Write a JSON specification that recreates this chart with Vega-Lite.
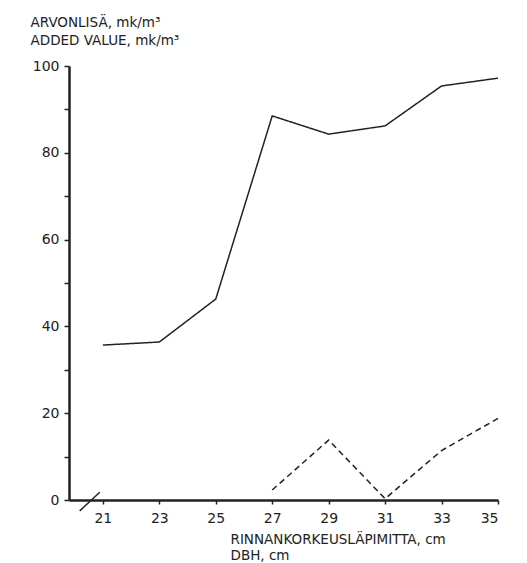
{
  "$schema": "https://vega.github.io/schema/vega-lite/v6.json",
  "width": 429,
  "height": 434,
  "autosize": "none",
  "padding": {"left": 69, "top": 66, "right": 29, "bottom": 63},
  "background": "white",
  "config": {
    "view": {"stroke": null},
    "axis": {
      "grid": false,
      "domainColor": "#222",
      "domainWidth": 2.5,
      "tickColor": "#222",
      "tickWidth": 1.5,
      "labelFont": "DejaVu Sans",
      "labelFontSize": 14,
      "labelColor": "#222",
      "titleFont": "DejaVu Sans",
      "titleFontSize": 13.5,
      "titleFontWeight": "normal",
      "titleColor": "#222"
    }
  },
  "datasets": {
    "lines": [
      {"dbh": 21, "value": 35.7, "series": "solid"},
      {"dbh": 23, "value": 36.4, "series": "solid"},
      {"dbh": 25, "value": 46.3, "series": "solid"},
      {"dbh": 27, "value": 88.5, "series": "solid"},
      {"dbh": 29, "value": 84.3, "series": "solid"},
      {"dbh": 31, "value": 86.2, "series": "solid"},
      {"dbh": 33, "value": 95.4, "series": "solid"},
      {"dbh": 35, "value": 97.2, "series": "solid"},
      {"dbh": 27, "value": 2.3, "series": "dashed"},
      {"dbh": 29, "value": 13.8, "series": "dashed"},
      {"dbh": 31, "value": 0.3, "series": "dashed"},
      {"dbh": 33, "value": 11.4, "series": "dashed"},
      {"dbh": 35, "value": 18.8, "series": "dashed"}
    ],
    "brk": [
      {"x": 20.18, "x2": 20.89, "y": -2.5, "y2": 1.8}
    ]
  },
  "layer": [
    {
      "data": {"name": "lines"},
      "mark": {"type": "line", "color": "#222", "strokeWidth": 1.5},
      "encoding": {
        "x": {
          "field": "dbh",
          "type": "quantitative",
          "scale": {"domain": [19.8, 35], "nice": false, "zero": false},
          "axis": {
            "values": [21, 23, 25, 27, 29, 31, 33, 35],
            "tickSize": 4,
            "labelPadding": 7,
            "title": ["RINNANKORKEUSLÄPIMITTA, cm", "DBH, cm"],
            "titleAlign": "left",
            "titleBaseline": "top",
            "titleX": 161,
            "titleY": 32,
            "titleLineHeight": 16
          }
        },
        "y": {
          "field": "value",
          "type": "quantitative",
          "scale": {"domain": [0, 100], "nice": false},
          "axis": {
            "values": [0, 10, 20, 30, 40, 50, 60, 70, 80, 90, 100],
            "labelExpr": "datum.value % 20 == 0 ? datum.label : ''",
            "tickSize": 5,
            "labelPadding": 5,
            "title": ["ARVONLISÄ, mk/m³", "ADDED VALUE, mk/m³"],
            "titleAngle": 0,
            "titleAlign": "left",
            "titleBaseline": "top",
            "titleX": -39,
            "titleY": -51,
            "titleLineHeight": 18
          }
        },
        "strokeDash": {
          "field": "series",
          "type": "nominal",
          "scale": {"domain": ["solid", "dashed"], "range": [[1, 0], [6, 4]]},
          "legend": null
        }
      }
    },
    {
      "data": {"name": "brk"},
      "mark": {"type": "rule", "color": "#222", "strokeWidth": 1.5},
      "encoding": {
        "x": {"field": "x", "type": "quantitative"},
        "x2": {"field": "x2"},
        "y": {"field": "y", "type": "quantitative"},
        "y2": {"field": "y2"}
      }
    }
  ]
}
